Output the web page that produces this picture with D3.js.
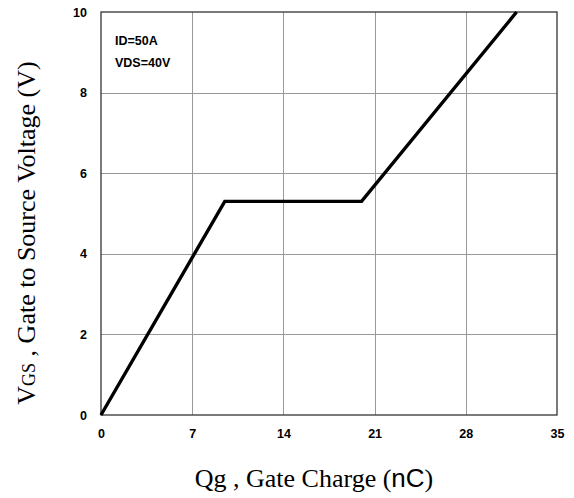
<!DOCTYPE html>
<html><head><meta charset="utf-8">
<script src="https://cdn.jsdelivr.net/npm/d3@7"></script>
<style>body{margin:0;background:#fff}svg{display:block}</style>
</head><body>
<script>
const qg = [0, 9.5, 20, 31.9];
const vgs = [0, 5.3, 5.3, 10];
const xTicks = [0, 7, 14, 21, 28, 35];
const yTicks = [0, 2, 4, 6, 8, 10];
const notes = ["ID=50A", "VDS=40V"];

const W = 574, H = 498;
const m = {l: 101, r: 17, t: 12, b: 83};
const svg = d3.select("body").append("svg").attr("width", W).attr("height", H);
const x = d3.scaleLinear().domain([0, 35]).range([m.l, W - m.r]);
const y = d3.scaleLinear().domain([0, 10]).range([H - m.b, m.t]);

// grid
svg.append("g").selectAll("line").data(xTicks.slice(1, -1)).join("line")
  .attr("x1", d => Math.round(x(d)) + 0.5).attr("x2", d => Math.round(x(d)) + 0.5)
  .attr("y1", y(0)).attr("y2", y(10)).attr("stroke", "#999").attr("stroke-width", 1);
svg.append("g").selectAll("line").data(yTicks.slice(1, -1)).join("line")
  .attr("y1", d => Math.round(y(d)) + 0.5).attr("y2", d => Math.round(y(d)) + 0.5)
  .attr("x1", x(0)).attr("x2", x(35)).attr("stroke", "#999").attr("stroke-width", 1);

// axes (labels only)
const fontTick = "bold 12.5px 'Liberation Sans', Arial, sans-serif";
const xa = svg.append("g").attr("transform", `translate(0,${y(0)})`)
  .call(d3.axisBottom(x).tickValues(xTicks).tickSize(0).tickPadding(14));
const ya = svg.append("g").attr("transform", `translate(${x(0)},0)`)
  .call(d3.axisLeft(y).tickValues(yTicks).tickSize(0).tickPadding(14));
[xa, ya].forEach(a => {
  a.select(".domain").remove();
  a.selectAll("text").style("font", fontTick).attr("fill", "#000");
});

// frame
svg.append("rect").attr("x", x(0)).attr("y", y(10)).attr("width", x(35) - x(0)).attr("height", y(0) - y(10))
  .attr("fill", "none").attr("stroke", "#333").attr("stroke-width", 1.3);

// curve
svg.append("path").datum(qg.map((d, i) => [d, vgs[i]]))
  .attr("d", d3.line().x(d => x(d[0])).y(d => y(d[1])))
  .attr("fill", "none").attr("stroke", "#000").attr("stroke-width", 3.4)
  .attr("stroke-linejoin", "miter");

// notes
svg.append("g").selectAll("text").data(notes).join("text")
  .attr("x", 115).attr("y", (d, i) => 45 + i * 22)
  .style("font", "bold 12.5px 'Liberation Sans', Arial, sans-serif").text(d => d);

// x label
const xl = svg.append("text").attr("x", 314).attr("y", 487).attr("text-anchor", "middle")
  .style("font", "26px 'Liberation Serif', 'Times New Roman', serif");
xl.append("tspan").text("Qg , Gate Charge (");
xl.append("tspan").style("font-family", "'Liberation Sans', Arial, sans-serif").text("nC");
xl.append("tspan").text(")");

// y label
const yl = svg.append("text").attr("transform", `translate(35,233) rotate(-90)`).attr("text-anchor", "middle")
  .style("font", "26px 'Liberation Serif', 'Times New Roman', serif");
yl.append("tspan").text("V");
yl.append("tspan").style("font-size", "18px").text("GS");
yl.append("tspan").text(" , Gate to Source Voltage (V)");
</script>
</body></html>
